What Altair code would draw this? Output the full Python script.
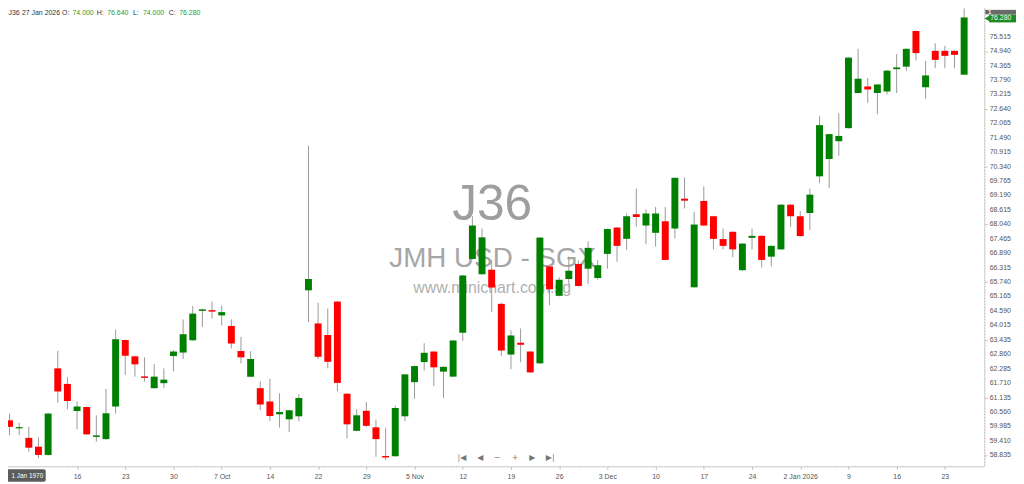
import altair as alt
import pandas as pd

# ---- data ----
opens = [60.23, 59.91, 59.53, 59.18, 58.85, 62.30, 61.68, 60.60, 60.76, 59.57,
         59.48, 60.78, 63.43, 62.78, 61.98, 61.51, 61.71, 62.79, 62.93, 63.42,
         64.59, 64.62, 64.41, 63.99, 62.99, 61.97, 61.51, 60.98, 60.47, 60.27,
         60.39, 65.41, 64.09, 63.63, 64.96, 61.29, 59.81, 60.61, 59.95, 58.81,
         58.80, 60.39, 61.75, 62.55, 62.97, 62.17, 61.97, 63.72, 66.66, 66.05,
         66.23, 64.87, 62.85, 63.32, 62.97, 62.50, 66.36, 65.19, 65.86, 66.46,
         66.27, 65.90, 66.86, 67.91, 67.46, 68.44, 67.99, 67.70, 68.16, 67.87,
         69.06, 65.53, 68.97, 68.36, 67.45, 67.74, 66.21, 67.50, 67.58, 66.75,
         67.04, 68.82, 68.36, 68.49, 69.95, 70.64, 71.35, 71.87, 73.27, 73.53,
         73.27, 73.33, 74.22, 74.32, 75.74, 73.50, 74.95, 74.95, 74.95, 74.00]
highs = [60.50, 60.13, 59.97, 59.55, 60.52, 63.00, 61.95, 60.98, 60.78, 60.43,
         61.48, 63.85, 63.45, 62.80, 62.74, 62.47, 62.30, 63.03, 64.25, 64.78,
         64.67, 64.96, 64.80, 64.25, 63.55, 62.99, 61.79, 61.88, 61.31, 60.65,
         61.27, 71.17, 64.91, 64.68, 64.98, 61.31, 60.67, 60.96, 60.26, 59.93,
         60.82, 62.08, 62.41, 63.30, 62.99, 62.38, 63.43, 66.02, 68.36, 67.87,
         66.62, 64.92, 63.82, 63.89, 62.99, 67.53, 66.38, 65.93, 66.75, 66.60,
         67.37, 66.62, 67.87, 67.93, 68.47, 69.46, 68.63, 68.73, 68.73, 69.91,
         69.91, 68.53, 69.55, 68.38, 67.87, 67.76, 67.29, 67.87, 67.60, 67.20,
         68.84, 68.84, 68.56, 69.46, 72.35, 71.65, 72.46, 74.70, 75.03, 73.87,
         73.63, 74.18, 74.82, 75.05, 75.76, 74.55, 75.25, 75.15, 74.97, 76.64]
lows = [59.64, 59.64, 58.98, 58.72, 58.83, 60.93, 60.67, 59.87, 59.65, 59.38,
        59.46, 60.50, 62.04, 61.97, 61.77, 61.49, 61.52, 62.18, 62.67, 63.40,
        63.95, 64.28, 64.01, 63.09, 62.50, 61.95, 60.63, 60.21, 59.94, 59.77,
        60.19, 64.14, 62.67, 62.30, 61.38, 59.51, 59.79, 59.97, 58.78, 58.65,
        58.78, 60.19, 61.09, 62.21, 61.59, 61.12, 61.95, 63.39, 66.64, 66.03,
        64.54, 62.80, 62.27, 62.54, 62.12, 62.48, 64.82, 65.17, 65.63, 65.56,
        65.66, 65.83, 66.27, 66.55, 67.02, 67.94, 67.25, 67.15, 66.60, 67.48,
        68.67, 65.51, 67.97, 67.04, 67.04, 66.73, 66.19, 67.04, 66.32, 66.36,
        67.02, 67.94, 67.55, 67.81, 69.68, 69.48, 70.77, 71.85, 73.25, 72.88,
        72.42, 73.21, 73.27, 74.16, 74.57, 73.04, 74.26, 74.26, 74.26, 74.00]
closes = [59.97, 59.96, 59.14, 58.85, 60.50, 61.38, 61.00, 60.78, 59.67, 59.63,
          60.51, 63.46, 62.80, 62.46, 61.92, 61.97, 61.85, 62.97, 63.66, 64.48,
          64.65, 64.56, 64.54, 63.29, 62.74, 62.67, 60.86, 60.40, 60.56, 60.63,
          61.12, 65.86, 62.76, 62.56, 61.72, 60.07, 60.43, 60.01, 59.48, 58.75,
          60.72, 62.06, 62.39, 62.92, 62.34, 62.36, 63.41, 66.00, 67.99, 67.52,
          65.52, 63.01, 63.61, 63.24, 62.14, 67.51, 65.45, 65.83, 66.19, 65.58,
          67.10, 66.41, 67.85, 67.18, 68.36, 68.33, 68.47, 68.47, 66.62, 69.89,
          68.98, 68.03, 67.99, 67.46, 67.18, 67.04, 67.27, 67.58, 66.62, 67.18,
          68.82, 68.36, 67.57, 69.22, 71.99, 71.63, 71.56, 74.68, 73.84, 73.41,
          73.61, 74.16, 74.29, 75.03, 74.86, 73.97, 74.59, 74.75, 74.79, 76.28]
bar_index = list(range(len(opens)))

tick_index = [7, 12, 17, 22, 27, 32, 37, 42, 47, 52, 57, 62, 67, 72, 77, 82, 87, 92, 97]
tick_labels = ["16", "23", "30", "7 Oct", "14", "22", "29", "5 Nov", "12", "19",
               "26", "3 Dec", "10", "17", "24", "2 Jan 2026", "9", "16", "23"]
y_ticks = [58.835, 59.410, 59.985, 60.560, 61.135, 61.710, 62.285, 62.860, 63.435,
           64.015, 64.590, 65.165, 65.740, 66.315, 66.890, 67.465, 68.040, 68.615,
           69.190, 69.765, 70.340, 70.915, 71.490, 72.065, 72.640, 73.215, 73.790,
           74.365, 74.940, 75.515]

symbol = "J36"
name = "JMH USD - SGX"
site = "www.minichart.com.sg"
last_date = "27 Jan 2026"
cursor_date = "1 Jan 1970"

df = pd.DataFrame({"i": bar_index, "open": opens, "high": highs,
                   "low": lows, "close": closes})
ytick_df = pd.DataFrame({"v": y_ticks})
one = pd.DataFrame({"t": [0]})

GREEN = "#008000"
RED = "#ff0000"
TXT_GREEN = "#2a9a2a"
FONT = "Liberation Sans"
W, H = 992, 468

xscale = alt.Scale(domain=[-0.47, 100.57], nice=False, zero=False)
yscale = alt.Scale(domain=[58.40, 76.898], nice=False, zero=False)

label_expr = ("[" + ",".join("'%s'" % t for t in tick_labels) + "][indexof("
              + str(tick_index) + ", datum.value)]")

xaxis = alt.Axis(values=tick_index, labelExpr=label_expr, orient="bottom", grid=False,
                 domainColor="#d0d0d0", tickColor="#c0c0c0", tickSize=3,
                 labelFontSize=7, labelColor="#555555", labelPadding=3, labelFont=FONT,
                 title=None, labelFlush=False, labelOverlap=False)
yaxis = alt.Axis(values=y_ticks, orient="right", grid=False, labels=False,
                 domainColor="#d0d0d0", tickColor="#c0c0c0", tickSize=3, title=None)

layers = []

# watermark
layers.append(alt.Chart(one).mark_text(text=symbol, font=FONT, fontSize=50, color="#9e9e9e",
                                        align="center", baseline="alphabetic")
              .encode(x=alt.value(496), y=alt.value(220)))
layers.append(alt.Chart(one).mark_text(text=name, font=FONT, fontSize=28, color="#a6a6a6",
                                        align="center", baseline="alphabetic")
              .encode(x=alt.value(496.5), y=alt.value(267)))
layers.append(alt.Chart(one).mark_text(text=site, font=FONT, fontSize=16, color="#b0b0b0",
                                        align="center", baseline="alphabetic")
              .encode(x=alt.value(496), y=alt.value(293)))

base = alt.Chart(df)
wicks = base.mark_rule(color="#9a9a9a", strokeWidth=1).encode(
    x=alt.X("i:Q", scale=xscale, axis=xaxis),
    y=alt.Y("low:Q", scale=yscale, axis=yaxis),
    y2=alt.Y2("high:Q"),
)
bodies = base.mark_bar(size=7).encode(
    x=alt.X("i:Q", scale=xscale, axis=xaxis),
    y=alt.Y("open:Q", scale=yscale, axis=yaxis),
    y2=alt.Y2("close:Q"),
    color=alt.condition("datum.close >= datum.open", alt.value(GREEN), alt.value(RED)),
)
layers += [wicks, bodies]

# right axis labels drawn through the y scale
layers.append(alt.Chart(ytick_df).mark_text(font=FONT, fontSize=7, color="#555555",
                                             align="left", baseline="middle").encode(
    x=alt.value(W + 5.5), y=alt.Y("v:Q", scale=yscale),
    text=alt.Text("v:Q", format=".3f")))

# header with last bar values
last = base.transform_filter("datum.i == %d" % (len(opens) - 1))
hdr = dict(font=FONT, fontSize=7, baseline="middle", align="left")
HY = 11
layers.append(alt.Chart(one).mark_text(text=symbol, color="#333333", **hdr)
              .encode(x=alt.value(8.5), y=alt.value(HY)))
layers.append(alt.Chart(one).mark_text(text=last_date, color="#333333", **hdr)
              .encode(x=alt.value(22), y=alt.value(HY)))
for lab, field, xl, xv in [("O:", "open", 62.5, 73), ("H:", "high", 97.5, 108),
                           ("L:", "low", 134, 144), ("C:", "close", 170, 180.5)]:
    layers.append(last.mark_text(text=lab, color="#333333", **hdr)
                  .encode(x=alt.value(xl), y=alt.value(HY)))
    layers.append(last.mark_text(color=TXT_GREEN, **hdr)
                  .encode(x=alt.value(xv), y=alt.value(HY),
                          text=alt.Text(field + ":Q", format=".3f")))

# last price marker on the right axis
layers.append(last.mark_rect(color="#1f8a1f", yOffset=-3, y2Offset=5).encode(
    x=alt.value(997), x2=alt.value(1024), y=alt.Y("close:Q", scale=yscale),
    y2=alt.Y2("close:Q")))
layers.append(last.mark_point(shape="triangle-left", filled=True, color="#1f8a1f",
                              size=40, opacity=1, yOffset=1).encode(
    x=alt.value(995), y=alt.Y("close:Q", scale=yscale)))
layers.append(last.mark_text(color="white", font=FONT, fontSize=7, align="left",
                             baseline="middle", dy=1).encode(
    x=alt.value(998), y=alt.Y("close:Q", scale=yscale),
    text=alt.Text("close:Q", format=".3f")))

# "1" box top right
layers.append(alt.Chart(one).mark_rect(color="#6a6a6a").encode(
    x=alt.value(993), x2=alt.value(1024), y=alt.value(8), y2=alt.value(12.5)))
layers.append(alt.Chart(one).mark_text(text="1", color="white", font=FONT, fontSize=5.5,
                                        fontWeight="bold", align="left", baseline="middle")
              .encode(x=alt.value(996), y=alt.value(10.5)))

# cursor date box bottom left
layers.append(alt.Chart(one).mark_rect(color="#5c5c5c", cornerRadius=2).encode(
    x=alt.value(0), x2=alt.value(46), y=alt.value(471), y2=alt.value(483.5)))
layers.append(alt.Chart(one).mark_text(text=cursor_date, color="white", font=FONT,
                                        fontSize=6.5, align="center", baseline="middle")
              .encode(x=alt.value(27.5), y=alt.value(477.5)))

# navigation icons
for sym, xx in [("|◀", 465.5), ("◀", 484), ("−", 501), ("+", 519), ("▶", 536.5), ("▶|", 554.5)]:
    layers.append(alt.Chart(one).mark_text(text=sym, color="#777777", font="DejaVu Sans",
                                            fontSize=8, align="center", baseline="middle")
                  .encode(x=alt.value(xx), y=alt.value(459.5)))

chart = alt.layer(*layers).properties(
    width=W, height=H,
    padding={"left": -8, "top": -8, "right": 32, "bottom": 16},
    autosize=alt.AutoSizeParams(type="none"),
    background="white",
).configure_view(stroke="#a8a8a8", strokeDash=[1, 2], strokeWidth=1)

chart.save("out.html", embed_options={"renderer": "svg", "actions": False})
